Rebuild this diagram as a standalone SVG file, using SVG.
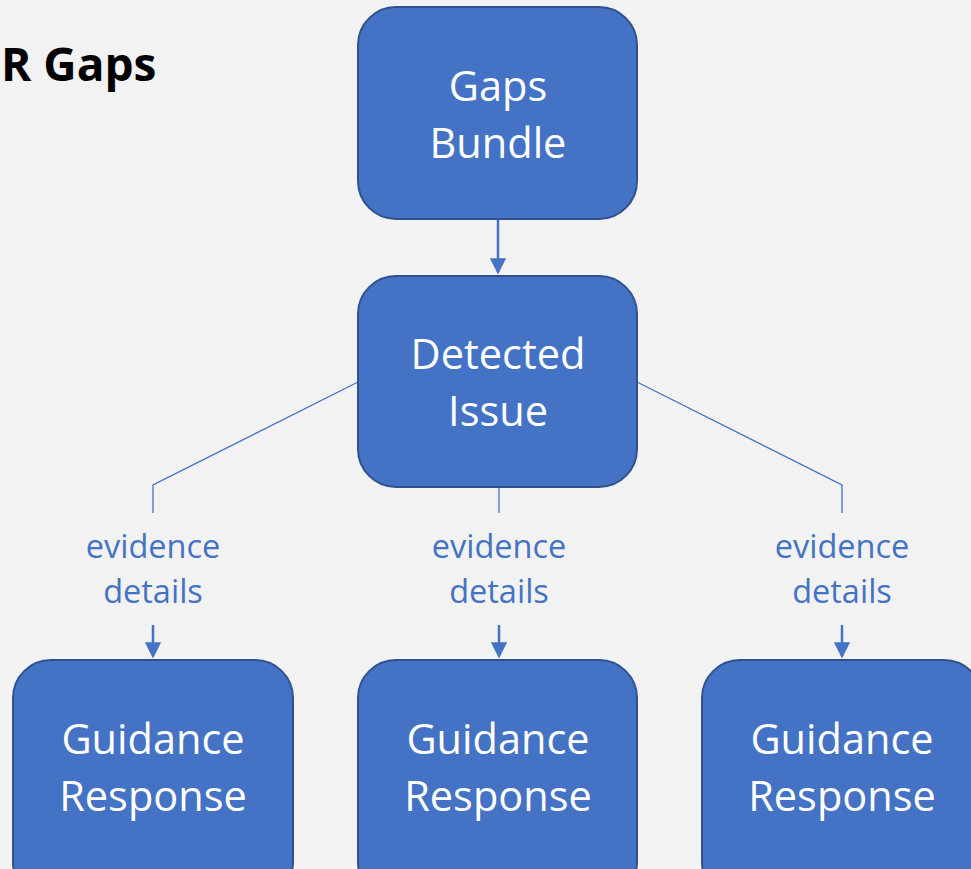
<svg xmlns="http://www.w3.org/2000/svg" width="971" height="869" viewBox="0 0 971 869">
<style>
.box{fill:#4472C4;stroke:#2F528F;stroke-width:2}
.bt{font-family:"Open Sans","Liberation Sans",sans-serif;font-size:41.5px;fill:#FFFFFF;text-anchor:middle}
.lt{font-family:"Open Sans","Liberation Sans",sans-serif;font-size:32.5px;fill:#4472C4;text-anchor:middle}
.ln{stroke:#4472C4;stroke-width:1.3;fill:none}
.ar{stroke:#4472C4;stroke-width:2.5;fill:none}
.title{font-family:"Open Sans","Liberation Sans",sans-serif;font-size:46px;font-weight:bold;fill:#000000}
</style>
<defs>
<marker id="ah" markerWidth="6.5" markerHeight="6.5" refX="5.5" refY="3.25" orient="auto" markerUnits="strokeWidth">
<path d="M0,0 L6.5,3.25 L0,6.5 Z" fill="#4472C4"/>
</marker>
</defs>
<rect width="971" height="869" fill="#F2F2F2"/>
<text class="title" x="1" y="81">R Gaps</text>
<g id="connectors">
<line class="ar" x1="498" y1="219" x2="498" y2="272" marker-end="url(#ah)"/>
<polyline class="ln" points="358,382 153,485 153,513"/>
<line class="ln" x1="499" y1="487" x2="499" y2="513"/>
<polyline class="ln" points="637,382 842,485 842,513"/>
<line class="ar" x1="153" y1="625" x2="153" y2="656" marker-end="url(#ah)"/>
<line class="ar" x1="499" y1="625" x2="499" y2="656" marker-end="url(#ah)"/>
<line class="ar" x1="842" y1="625" x2="842" y2="656" marker-end="url(#ah)"/>
<text class="lt" x="153" y="558">evidence</text>
<text class="lt" x="153" y="603">details</text>
<text class="lt" x="499" y="558">evidence</text>
<text class="lt" x="499" y="603">details</text>
<text class="lt" x="842" y="558">evidence</text>
<text class="lt" x="842" y="603">details</text>
</g>
<g id="gaps-bundle">
<rect class="box" x="358" y="7" width="279" height="212" rx="38"/>
<text class="bt" x="498" y="101">Gaps</text>
<text class="bt" x="498" y="158">Bundle</text>
</g>
<g id="detected-issue">
<rect class="box" x="358" y="276" width="279" height="211" rx="38"/>
<text class="bt" x="498" y="369">Detected</text>
<text class="bt" x="498" y="426">Issue</text>
</g>
<g id="guidance-1">
<rect class="box" x="13" y="660" width="280" height="240" rx="38"/>
<text class="bt" x="153" y="754">Guidance</text>
<text class="bt" x="153" y="811">Response</text>
</g>
<g id="guidance-2">
<rect class="box" x="358" y="660" width="279" height="240" rx="38"/>
<text class="bt" x="498" y="754">Guidance</text>
<text class="bt" x="498" y="811">Response</text>
</g>
<g id="guidance-3">
<rect class="box" x="702" y="660" width="280" height="240" rx="38"/>
<text class="bt" x="842" y="754">Guidance</text>
<text class="bt" x="842" y="811">Response</text>
</g>
</svg>
